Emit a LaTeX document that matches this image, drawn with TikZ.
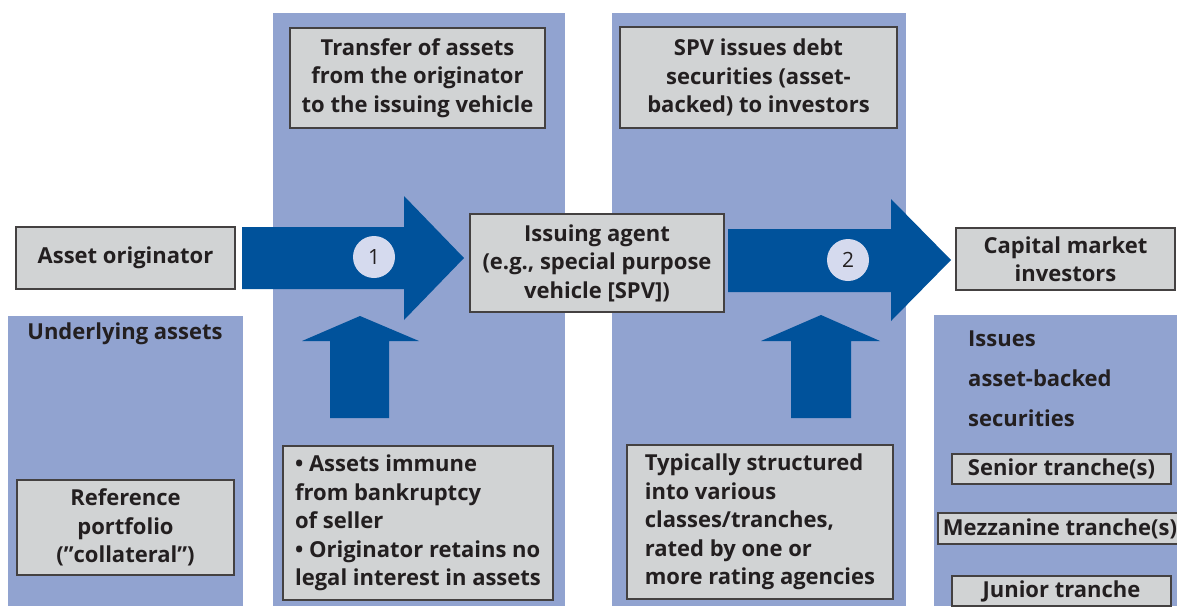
\documentclass[tikz,border=0pt]{standalone}
\usepackage{fontspec}
\setmainfont{Open Sans}
\usetikzlibrary{positioning}

\definecolor{panelblue}{HTML}{91A3D0}
\definecolor{boxgray}{HTML}{D1D3D4}
\definecolor{arrowblue}{HTML}{00529B}
\definecolor{circfill}{HTML}{D5DAEE}
\definecolor{inkdark}{HTML}{231F20}

\begin{document}
\begin{tikzpicture}[x=1pt,y=-1pt,
	panel/.style={fill=panelblue},
	gbox/.style={draw=inkdark!85, line width=1.2pt, fill=boxgray, text=inkdark,
		font=\bfseries\fontsize{22}{28.5}\selectfont, inner sep=0pt, align=center},
	lbl/.style={text=inkdark, font=\bfseries\fontsize{22}{28.5}\selectfont, inner sep=0pt},
	bigarrow/.style={fill=arrowblue},
	numcirc/.style={circle, fill=circfill, minimum size=42pt, inner sep=0pt,
		font=\fontsize{21}{24}\selectfont, text=inkdark}]

	\clip (0,0) rectangle (1177,606);

	% blue panels
	\fill[panel] (273,13) rectangle (565,606);
	\fill[panel] (612,13) rectangle (906,606);
	\fill[panel] (8,316) rectangle (243,606);
	\fill[panel] (934,315) rectangle (1177,606);

	% block arrows
	\def\shT{227}
	\def\shB{289}
	\fill[bigarrow] (242,\shT) -- (404,\shT) -- (404,196) -- (464,258) -- (404,320)
		-- (404,\shB) -- (242,\shB) -- cycle;
	\fill[bigarrow] (728,229) -- (891,229) -- (891,199) -- (951,260) -- (891,321)
		-- (891,292) -- (728,292) -- cycle;

	\def\hb{341}
	\def\sb{418}
	\fill[bigarrow] (360,316) -- (419,\hb) -- (389,\hb) -- (389,\sb) -- (330,\sb)
		-- (330,\hb) -- (302,\hb) -- cycle;
	\fill[bigarrow] (821,315) -- (880,\hb) -- (851,\hb) -- (851,\sb) -- (791,\sb)
		-- (791,\hb) -- (761,\hb) -- cycle;

	\node[numcirc] (one) at (374,257) {1};
	\node[numcirc] (two) at (848,260) {2};

	% boxes
	\node[gbox, minimum width=219pt, minimum height=62pt] (orig) at (125.5,258) {Asset originator};
	\node[gbox, minimum width=255pt, minimum height=100pt] (transfer) at (417.5,78)
		{Transfer of assets\\from the originator\\to the issuing vehicle};
	\node[gbox, minimum width=277pt, minimum height=101pt] (spvdebt) at (758.5,77.5)
		{SPV issues debt\\securities (asset-\\backed) to investors};
	\node[gbox, minimum width=254pt, minimum height=98pt] (issuer) at (597,263)
		{Issuing agent\\(e.g., special purpose\\vehicle [SPV])};
	\node[gbox, minimum width=219pt, minimum height=62pt] (investors) at (1065.5,259)
		{Capital market\\investors};
	\node[gbox, minimum width=217pt, minimum height=95pt] (refport) at (125.5,527.5)
		{Reference\\portfolio\\(”collateral”)};
	\node[gbox, align=left, minimum width=270pt, minimum height=154pt] (immune) at (418,523)
		{• Assets immune\\from bankruptcy\\of seller\\• Originator retains no\\legal interest in assets};
	\node[gbox, align=left, minimum width=266pt, minimum height=154pt] (tranches) at (760,522)
		{Typically structured\\into various\\classes/tranches,\\rated by one or\\more rating agencies};

	% right column
	\node[lbl] (underlying) at (125,334) {Underlying assets};
	\node[lbl, anchor=west, align=left, font=\bfseries\fontsize{22}{40}\selectfont] (issues) at (968,379)
		{Issues\\asset-backed\\securities};
	\node[gbox, minimum width=219pt, minimum height=30pt] (senior) at (1061.5,469) {Senior tranche(s)};
	\node[gbox, minimum width=244pt, minimum height=31pt] (mezz) at (1060,528.5) {Mezzanine tranche(s)};
	\node[gbox, minimum width=219pt, minimum height=30pt] (junior) at (1061.5,591) {Junior tranche};

\end{tikzpicture}
\end{document}
